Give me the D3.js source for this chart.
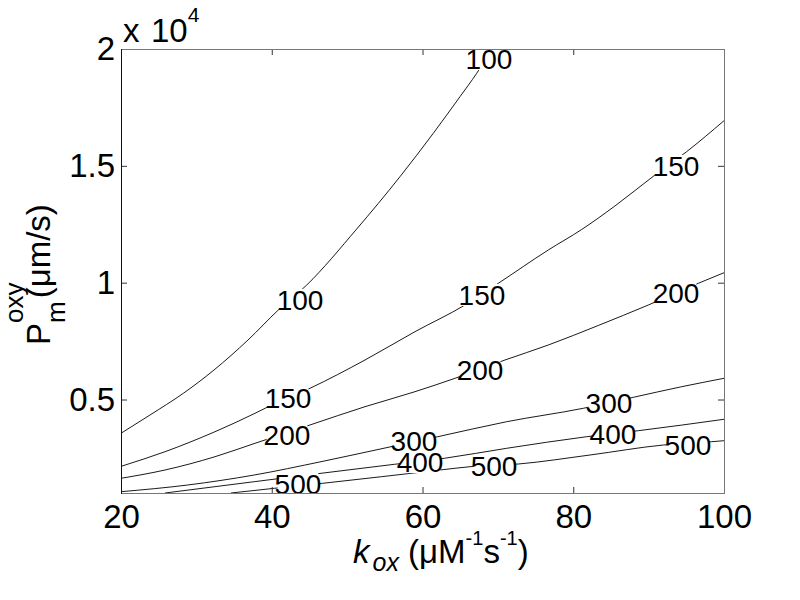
<!DOCTYPE html>
<html>
<head>
<meta charset="utf-8">
<script src="https://cdn.jsdelivr.net/npm/d3@7"></script>
<style>
  body { margin: 0; background: #fff; }
  svg { display: block; }
  text { font-family: "Liberation Sans", Arial, Helvetica, sans-serif; fill: #000; }
</style>
</head>
<body>
<div id="chart"></div>
<script>
"use strict";

// contour lines: [k_ox, P_m]
var line100 = [[20, 3555], [23.85, 4338], [28.27, 5266], [32.34, 6264], [36.85, 7547], [40.87, 8831],
  [44.64, 9900], [51.27, 12297], [57.01, 14535], [61.43, 16392], [64.97, 17958], [67.19, 18960], [69.22, 20000]];
var line150 = [[20, 2140], [25.84, 2767], [32.47, 3623], [37.78, 4411], [39.54, 4693], [45.07, 5480],
  [52.37, 6691], [59.00, 7903], [65.64, 9045], [70.06, 9974], [76.69, 11399], [81.12, 12276],
  [85.53, 13282], [90.84, 14608], [95.04, 15605], [100, 16932]];
var line200 = [[20, 1629], [25.84, 1984], [32.47, 2553], [37.78, 3127], [45.07, 3910], [52.37, 4693],
  [59.00, 5335], [64.31, 5908], [70.94, 6691], [76.69, 7333], [83.32, 8168], [89.96, 9045],
  [96.59, 9974], [100, 10427]];
var line300 = [[20, 1056], [28.85, 1342], [37.68, 1770], [46.53, 2339], [55.82, 2981], [62.02, 3409],
  [71.17, 4051], [81.33, 4625], [87.97, 5095], [94.39, 5549], [100, 5908]];
var line400 = [[25.84, 1000], [37.68, 1484], [46.53, 1843], [56.26, 2228], [62.89, 2485], [71.17, 2913],
  [81.78, 3409], [88.63, 3666], [100, 4154]];
var line500 = [[34.59, 1000], [40.34, 1201], [46.76, 1415], [62.32, 1984], [66.30, 2125], [72.71, 2241],
  [82.22, 2626], [91.95, 3054], [98.37, 3195], [100, 3238]];

// where the inline labels sit
var labels100 = [[43.75, 9259], [68.82, 19572]];
var labels150 = [[42.16, 5065], [67.89, 9473], [93.63, 14993]];
var labels200 = [[42.02, 3482], [67.63, 6264], [93.63, 9559]];
var labels300 = [[58.87, 3225], [84.74, 4851]];
var labels400 = [[59.67, 2327], [85.27, 3525]];
var labels500 = [[43.48, 1385], [69.49, 2155], [95.22, 3054]];

var levels = [100, 150, 200, 300, 400, 500];
var xTicks = [20, 40, 60, 80, 100];
var yTicks = [5000, 10000, 15000, 20000];
var yTickLabels = ["0.5", "1", "1.5", "2"];

var contours = [
  {level: levels[0], pts: line100, labels: labels100},
  {level: levels[1], pts: line150, labels: labels150},
  {level: levels[2], pts: line200, labels: labels200},
  {level: levels[3], pts: line300, labels: labels300},
  {level: levels[4], pts: line400, labels: labels400},
  {level: levels[5], pts: line500, labels: labels500}
];

var width = 800, height = 600;
var margin = {top: 49, right: 76, bottom: 107, left: 121};
var x0 = margin.left, x1 = width - margin.right;
var y0 = height - margin.bottom, y1 = margin.top;

var svg = d3.select("#chart").append("svg")
  .attr("width", width)
  .attr("height", height);

var x = d3.scaleLinear().domain([20, 100]).range([x0, x1]);
var y = d3.scaleLinear().domain([1000, 20000]).range([y0, y1]);

svg.append("clipPath").attr("id", "plotclip")
  .append("rect")
  .attr("x", x0).attr("y", y1)
  .attr("width", x1 - x0).attr("height", y0 - y1);

// contour lines
var line = d3.line()
  .curve(d3.curveMonotoneX)
  .x(function(d) { return x(d[0]); })
  .y(function(d) { return y(d[1]); });

svg.append("g")
  .attr("clip-path", "url(#plotclip)")
  .selectAll("path")
  .data(contours)
  .enter()
  .append("path")
  .attr("d", function(d) { return line(d.pts); })
  .attr("fill", "none")
  .attr("stroke", "#000")
  .attr("stroke-width", 0.9);

// inline labels, with a white box that breaks the line
var labelSize = 28;
var labelData = [];
contours.forEach(function(c) {
  c.labels.forEach(function(p) { labelData.push({level: c.level, x: p[0], y: p[1]}); });
});

var lab = svg.append("g").selectAll("g")
  .data(labelData)
  .enter()
  .append("g")
  .attr("transform", function(d) { return "translate(" + x(d.x) + "," + y(d.y) + ")"; });

lab.append("rect").attr("fill", "#fff");
lab.append("text")
  .attr("text-anchor", "middle")
  .attr("dy", "0.36em")
  .attr("font-size", labelSize)
  .text(function(d) { return d.level; });

lab.each(function() {
  var g = d3.select(this);
  var bb = g.select("text").node().getBBox();
  g.select("rect")
    .attr("x", bb.x + 3)
    .attr("width", bb.width - 6)
    .attr("y", -labelSize * 0.36 - 1)
    .attr("height", labelSize * 0.72 + 2);
});

// axes, MATLAB style: ticks inside, on all four sides
var tickFont = 33;

var xAxis = svg.append("g")
  .attr("transform", "translate(0," + y0 + ")")
  .call(d3.axisBottom(x).tickValues(xTicks).tickSize(-6).tickPadding(12));
var yAxis = svg.append("g")
  .attr("transform", "translate(" + x0 + ",0)")
  .call(d3.axisLeft(y).tickValues(yTicks).tickSize(-6).tickPadding(6)
    .tickFormat(function(d, i) { return yTickLabels[i]; }));
var xTop = svg.append("g")
  .attr("transform", "translate(0," + y1 + ")")
  .call(d3.axisTop(x).tickValues(xTicks).tickSize(-6).tickFormat(""));
var yRight = svg.append("g")
  .attr("transform", "translate(" + x1 + ",0)")
  .call(d3.axisRight(y).tickValues(yTicks).tickSize(-6).tickFormat(""));

[xAxis, yAxis, xTop, yRight].forEach(function(a) {
  a.select(".domain").remove();
  a.selectAll("line").attr("stroke", "#333");
  a.selectAll("text")
    .attr("font-size", tickFont)
    .attr("font-family", "Liberation Sans, Arial, sans-serif")
    .attr("fill", "#000");
});

// box
svg.append("line").attr("x1", x0).attr("x2", x1).attr("y1", y1 + 0.5).attr("y2", y1 + 0.5)
  .attr("stroke", "#777");
svg.append("line").attr("x1", x0).attr("x2", x1).attr("y1", y0 + 0.5).attr("y2", y0 + 0.5)
  .attr("stroke", "#777");
svg.append("line").attr("x1", x1 + 0.5).attr("x2", x1 + 0.5).attr("y1", y1).attr("y2", y0 + 1)
  .attr("stroke", "#777");
svg.append("line").attr("x1", x0 + 0.5).attr("x2", x0 + 0.5).attr("y1", y1).attr("y2", y0 + 1)
  .attr("stroke", "#111");

// exponent
var expo = svg.append("text")
  .attr("x", 123)
  .attr("y", 42)
  .attr("font-size", 33);
expo.append("tspan").text("x");
expo.append("tspan").attr("x", 151).text("10");
expo.append("tspan").attr("font-size", 21).attr("y", 22).text("4");

// x label
var xl = svg.append("text")
  .attr("x", 353)
  .attr("y", 563)
  .attr("font-size", 33);
xl.append("tspan").attr("font-style", "italic").text("k");
xl.append("tspan").attr("font-style", "italic").attr("font-size", 25).attr("y", 571).attr("dx", 3).text("ox");
xl.append("tspan").attr("y", 563).text(" (\u03bcM");
xl.append("tspan").attr("font-size", 20).attr("y", 545).text("-1");
xl.append("tspan").attr("y", 563).text("s");
xl.append("tspan").attr("font-size", 20).attr("y", 545).text("-1");
xl.append("tspan").attr("y", 563).text(")");

// y label
var yl = svg.append("text")
  .attr("transform", "translate(50,345) rotate(-90)")
  .attr("font-size", 33);
var pSpan = yl.append("tspan").attr("x", 0).attr("y", 0).text("P");
var pw = pSpan.node().getComputedTextLength();
yl.append("tspan").attr("font-size", 26).attr("y", -27).text("oxy");
yl.append("tspan").attr("font-size", 26).attr("x", pw).attr("y", 15).text("m");
yl.append("tspan").attr("y", 0).attr("dx", 3).text("(\u03bcm/s)");
</script>
</body>
</html>
